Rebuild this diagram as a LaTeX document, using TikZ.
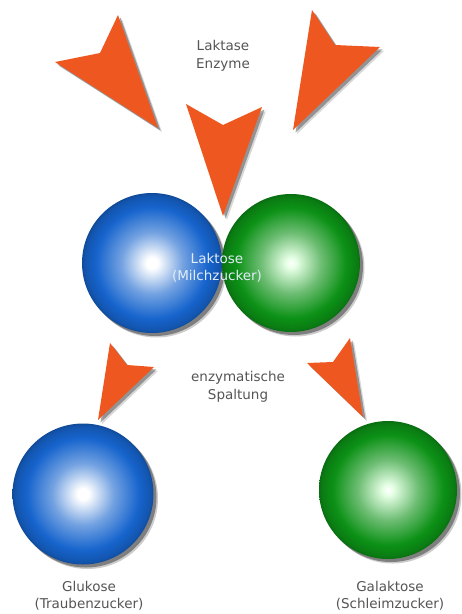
\documentclass[tikz,border=0pt]{standalone}
\usepackage{fontspec}
\setmainfont{DejaVu Sans}
\usetikzlibrary{shadows}
\definecolor{arrowor}{RGB}{238,88,32}
\definecolor{sphblue}{RGB}{22,100,205}
\definecolor{sphgreen}{RGB}{12,145,22}
\definecolor{txtgray}{RGB}{85,85,85}
\pgfdeclareradialshading{bluesph}{\pgfpoint{0bp}{0bp}}{color(0bp)=(white); color(2bp)=(white); color(11bp)=(sphblue!60!white); color(20bp)=(sphblue); color(24bp)=(sphblue!85!black); color(25bp)=(sphblue!75!black); color(50bp)=(sphblue!75!black)}
\pgfdeclareradialshading{greensph}{\pgfpoint{0bp}{0bp}}{color(0bp)=(white); color(2bp)=(white!90!green); color(11bp)=(sphgreen!60!white); color(20bp)=(sphgreen); color(24bp)=(sphgreen!85!black); color(25bp)=(sphgreen!75!black); color(50bp)=(sphgreen!75!black)}
\tikzset{
  dartshape/.style={fill=arrowor,
    preaction={fill=black!75, opacity=.2, transform canvas={shift={(4pt,-4pt)}}},
    drop shadow={shadow xshift=2.5pt, shadow yshift=-2.5pt, opacity=.45, fill=black!75}},
  sphere/.style={circle, inner sep=0pt, minimum size=#1,
    drop shadow={shadow xshift=4.5pt, shadow yshift=-4.5pt, opacity=.2, fill=black},
    drop shadow={shadow xshift=3pt, shadow yshift=-3pt, opacity=.5, fill=black!80}},
  bluesphere/.style={sphere=#1, shading=bluesph},
  greensphere/.style={sphere=#1, shading=greensph},
  label text/.style={font=\fontsize{13.5}{17.5}\selectfont, align=center, text=txtgray, inner sep=0pt},
}
\begin{document}
\begin{tikzpicture}[x=1pt,y=-1pt]
\useasboundingbox (0,0) rectangle (462,614);
\fill[white] (0,0) rectangle (462,614);
% top arrows
\fill[dartshape] (158,128) -- (118,15) -- (100,53) -- (55,62) -- cycle;
\fill[dartshape] (293,130) -- (312,10) -- (335,45) -- (380,47) -- cycle;
\fill[dartshape] (223,216) -- (186,104) -- (223,125) -- (262,107) -- cycle;
% bottom arrows
\fill[dartshape] (98,420) -- (110,343) -- (127,365) -- (154,367) -- cycle;
\fill[dartshape] (363,417) -- (350,338) -- (333,362) -- (307,363) -- cycle;
% spheres
\node[bluesphere=140pt] (laktoseA) at (152,263) {};
\node[greensphere=138pt] (laktoseB) at (291,263) {};
\node[bluesphere=141pt] (glukose) at (83,494) {};
\node[greensphere=138pt] (galaktose) at (388,490) {};
% texts
\node[label text] (enzyme) at (223,56) {Laktase\\Enzyme};
\node[label text, text=white!88!sphblue] (laktose) at (217,268) {Laktose\\(Milchzucker)};
\node[label text] (spaltung) at (238,387) {enzymatische\\Spaltung};
\node[label text] (glukoselabel) at (89,596) {Glukose\\(Traubenzucker)};
\node[label text] (galaktoselabel) at (390,596) {Galaktose\\(Schleimzucker)};
\end{tikzpicture}
\end{document}
